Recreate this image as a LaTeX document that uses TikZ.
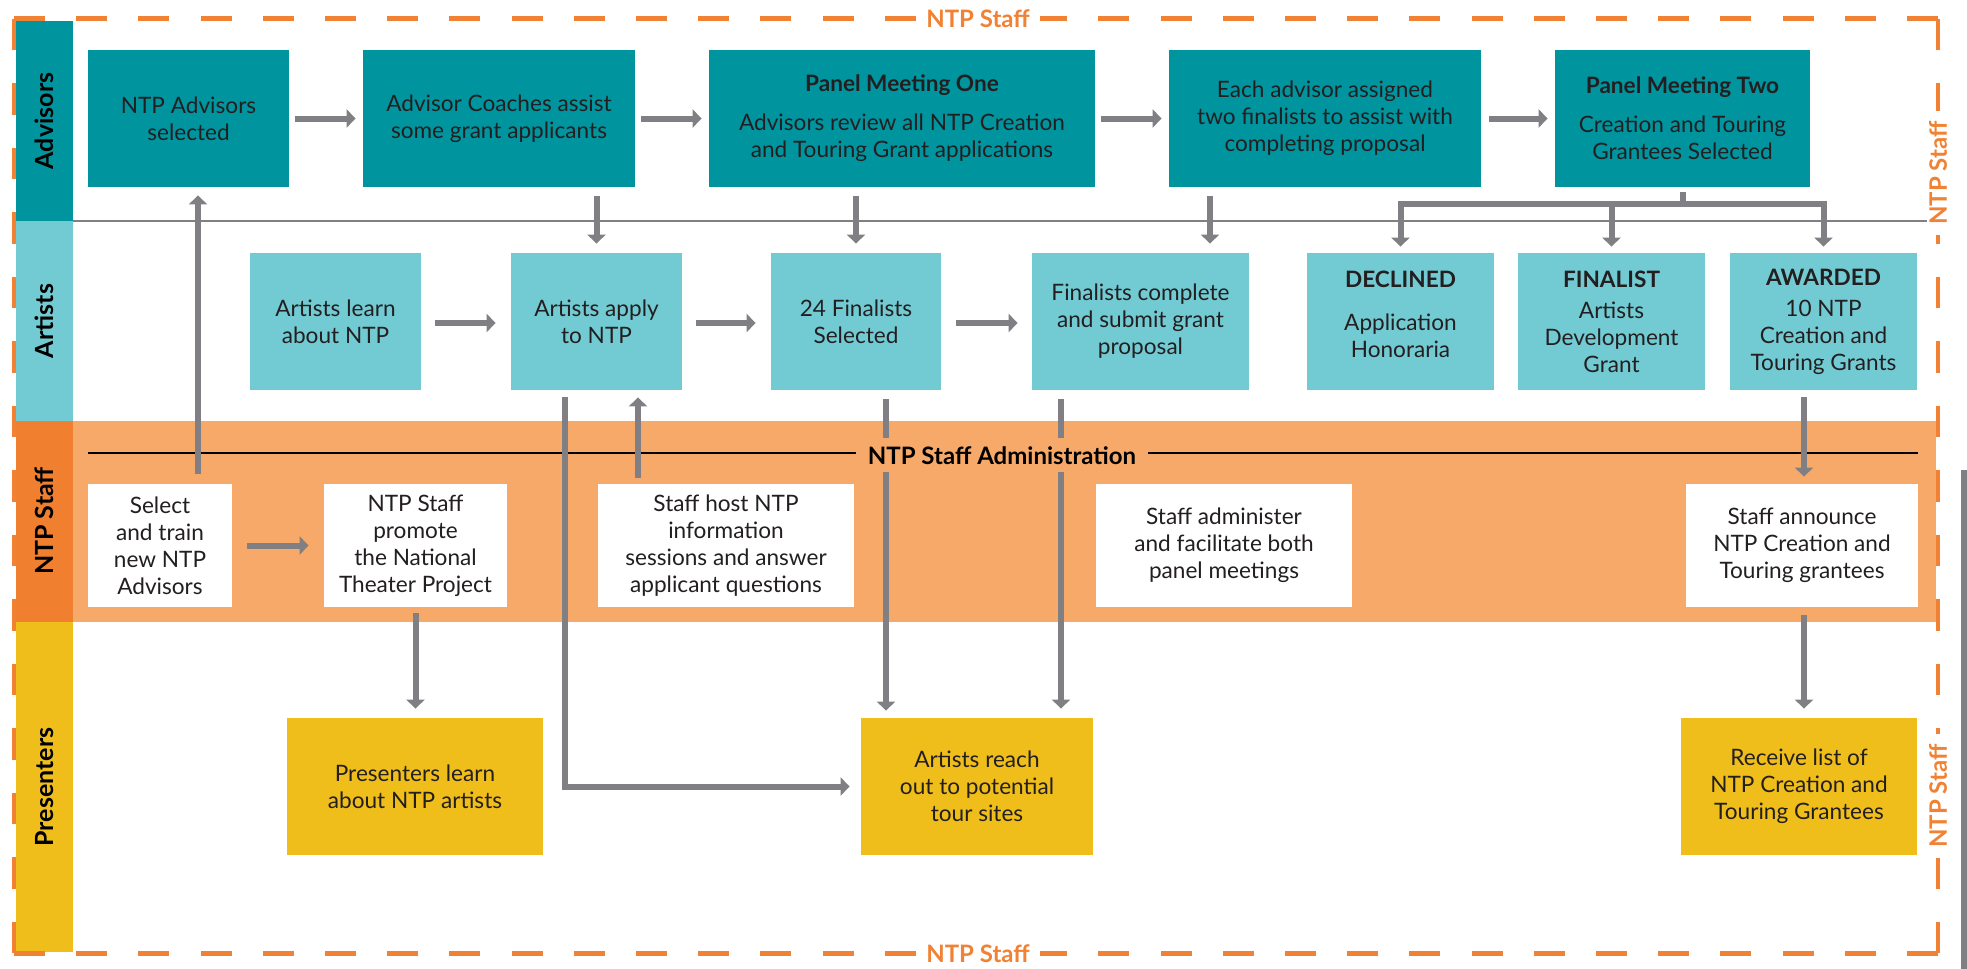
\documentclass[tikz,border=0pt]{standalone}
\usepackage{fontspec}
\setmainfont{Lato}
\usetikzlibrary{arrows.meta}
\definecolor{advteal}{RGB}{0,148,158}
\definecolor{artteal}{RGB}{114,203,211}
\definecolor{stafforange}{RGB}{240,128,48}
\definecolor{bandorange}{RGB}{246,169,104}
\definecolor{presyellow}{RGB}{240,190,26}
\definecolor{conngray}{RGB}{128,128,132}
\definecolor{dashorange}{RGB}{241,130,52}
\definecolor{inkblack}{RGB}{35,31,32}
\newcommand\placebox[7]{\node[#6, minimum width={(#4-#2)*0.5pt}, minimum height={(#5-#3)*0.5pt}] (#1) at ({(#2+#4)/2},{(#3+#5)/2}) {#7};}
\tikzset{
 boxbase/.style={rectangle, inner sep=0pt, align=center, text=inkblack, font=\fontsize{11.3}{13.5}\selectfont},
 advbox/.style={boxbase, fill=advteal},
 artbox/.style={boxbase, fill=artteal},
 declbox/.style={artbox, text depth=7pt},
 staffbox/.style={boxbase, fill=white},
 presbox/.style={boxbase, fill=presyellow},
 lanelabel/.style={rotate=90, font=\fontsize{12.5}{14}\selectfont\bfseries, text=black},
 conn/.style={draw=conngray, line width=3pt},
 arr/.style={conn, -{Triangle[length=4.5pt,width=9pt]}},
 hborder/.style={draw=dashorange, line width=2.4pt, dash pattern=on 15.5pt off 15.6pt},
 vborder/.style={draw=dashorange, line width=2.4pt, dash pattern=on 15.85pt off 16.4pt},
 borderlabel/.style={fill=white, text=dashorange, font=\fontsize{12}{14}\selectfont\bfseries, inner xsep=5pt, inner ysep=1pt},
}
\begin{document}
\begin{tikzpicture}[x=0.5pt,y=-0.5pt]
\useasboundingbox (0,0) rectangle (1967,969);
% lane strips
\fill[advteal] (16,21) rectangle (73,221);
\fill[artteal] (16,221) rectangle (73,421);
\fill[stafforange] (16,421) rectangle (73,622);
\fill[presyellow] (16,622) rectangle (73,952);
\node[lanelabel] (lAdv) at (44.5,121) {Advisors};
\node[lanelabel] (lArt) at (44.5,321) {Artists};
\node[lanelabel] (lStf) at (44.5,521) {NTP Staff};
\node[lanelabel] (lPre) at (44.5,787) {Presenters};
% orange band
\fill[bandorange] (73,421) rectangle (1936,622);
% lane separator
\draw[draw=conngray, line width=1pt] (73,221) -- (1930,221);
% admin line
\draw[black, line width=1.2pt] (88,453) -- (1918,453);
% advisors boxes
\placebox{a1}{88}{50}{289}{187}{advbox}{NTP Advisors\\selected}
\placebox{a2}{363}{50}{635}{187}{advbox}{Advisor Coaches assist\\some grant applicants}
\placebox{a3}{709}{50}{1095}{187}{advbox}{\textbf{Panel Meeting One}\\[6pt]Advisors review all NTP Creation\\and Touring Grant applications}
\placebox{a4}{1169}{50}{1481}{187}{advbox}{Each advisor assigned\\two finalists to assist with\\completing proposal}
\placebox{a5}{1555}{50}{1810}{187}{advbox}{\textbf{Panel Meeting Two}\\[6pt]Creation and Touring\\Grantees Selected}
% artists boxes
\placebox{r1}{250}{253}{421}{390}{artbox}{Artists learn\\about NTP}
\placebox{r2}{511}{253}{682}{390}{artbox}{Artists apply\\to NTP}
\placebox{r3}{771}{253}{941}{390}{artbox}{24 Finalists\\Selected}
\placebox{r4}{1032}{253}{1249}{390}{artbox}{Finalists complete\\and submit grant\\proposal}
\placebox{r5}{1307}{253}{1494}{390}{declbox}{\textbf{DECLINED}\\[8pt]Application\\Honoraria}
\placebox{r6}{1518}{253}{1705}{390}{artbox}{\textbf{FINALIST}\\[2pt]Artists\\Development\\Grant}
\placebox{r7}{1730}{253}{1917}{390}{artbox}{\textbf{AWARDED}\\[2pt]10 NTP\\Creation and\\Touring Grants}
% staff boxes
\placebox{s1}{88}{484}{232}{607}{staffbox}{Select\\and train\\new NTP\\Advisors}
\placebox{s2}{324}{484}{507}{607}{staffbox}{NTP Staff\\promote\\the National\\Theater Project}
\placebox{s3}{598}{484}{854}{607}{staffbox}{Staff host NTP\\information\\sessions and answer\\applicant questions}
\placebox{s4}{1096}{484}{1352}{607}{staffbox}{Staff administer\\and facilitate both\\panel meetings}
\placebox{s5}{1686}{484}{1918}{607}{staffbox}{Staff announce\\NTP Creation and\\Touring grantees}
% presenters boxes
\placebox{p1}{287}{718}{543}{855}{presbox}{Presenters learn\\about NTP artists}
\placebox{p2}{861}{718}{1093}{855}{presbox}{Artists reach\\out to potential\\tour sites}
\placebox{p3}{1681}{718}{1917}{855}{presbox}{Receive list of\\NTP Creation and\\Touring Grantees}
% advisors lane arrows
\draw[arr] ([xshift=3pt]a1.east) -- ([xshift=-3.5pt]a2.west);
\draw[arr] ([xshift=3pt]a2.east) -- ([xshift=-3.5pt]a3.west);
\draw[arr] ([xshift=3pt]a3.east) -- ([xshift=-3.5pt]a4.west);
\draw[arr] ([xshift=4pt]a4.east) -- ([xshift=-3.5pt]a5.west);
% artists lane arrows
\draw[arr] ([xshift=7pt,yshift=-0.75pt]r1.east) -- ([xshift=-7.5pt,yshift=-0.75pt]r2.west);
\draw[arr] ([xshift=7pt,yshift=-0.75pt]r2.east) -- ([xshift=-7.5pt,yshift=-0.75pt]r3.west);
\draw[arr] ([xshift=7.5pt,yshift=-0.75pt]r3.east) -- ([xshift=-7pt,yshift=-0.75pt]r4.west);
% advisors to artists
\draw[arr] ([yshift=-4.5pt]a2.south -| r2.north) -- ([yshift=4.5pt]r2.north);
\draw[arr] ([yshift=-4.5pt]a3.south -| r3.north) -- ([yshift=4.5pt]r3.north);
\draw[arr] ([xshift=34.75pt,yshift=-4.5pt]a4.south -| r4.north) -- ([xshift=34.75pt,yshift=4.5pt]r4.north);
% tree from panel meeting two
\coordinate (tj) at ([yshift=-8.5pt]a5.south);
\draw[conn] ([yshift=-2.5pt]a5.south) -- (tj);
\draw[arr] (tj) -| ([yshift=3pt]r5.north);
\draw[arr] (tj) -| ([yshift=3pt]r6.north);
\draw[arr] (tj) -| ([yshift=3pt]r7.north);
% staff lane
\draw[arr] ([xshift=19pt,yshift=5pt]s1.north) -- ([xshift=19pt,yshift=-4pt]s1.north |- a1.south);
\draw[arr] ([xshift=7.5pt]s1.east) -- ([xshift=-7.5pt]s2.west);
\draw[arr] ([xshift=-44pt,yshift=3pt]s3.north) -- ([xshift=-44pt,yshift=-3.5pt]s3.north |- r2.south);
\draw[arr] ([xshift=-15.75pt,yshift=-3.5pt]r2.south) |- ([xshift=-5.5pt]p2.west);
\draw[arr] ([xshift=15pt,yshift=-4.5pt]r3.south) -- ([xshift=15pt,yshift=3.5pt]r3.south |- p2.north);
\draw[arr] ([xshift=-39.75pt,yshift=-4.5pt]r4.south) -- ([xshift=-39.75pt,yshift=4.5pt]r4.south |- p2.north);
\draw[arr] ([yshift=-3pt]s2.south) -- ([yshift=4.5pt]s2.south |- p1.north);
\draw[arr] ([xshift=-9.75pt,yshift=-3.5pt]r7.south) -- ([xshift=-9.75pt,yshift=3.5pt]r7.south |- s5.north);
\draw[arr] ([xshift=1pt,yshift=-4pt]s5.south) -- ([xshift=1pt,yshift=4.5pt]s5.south |- p3.north);
% admin label
\node[anchor=base, fill=bandorange, inner xsep=6pt, inner ysep=4pt, font=\fontsize{12}{14}\selectfont\bfseries, text=black] (admin) at (1002,464) {NTP Staff Administration};
% dashed border
\draw[hborder] (14,18.5) -- (976,18.5);
\draw[hborder] (1938,18.5) -- (976,18.5);
\draw[hborder] (14,953.5) -- (976,953.5);
\draw[hborder] (1938,953.5) -- (976,953.5);
\draw[vborder] (14,18.5) -- (14,953.5);
\draw[vborder] (1938,18.5) -- (1938,953.5);
\node[borderlabel] (bTop) at (978,18.5) {NTP Staff};
\node[borderlabel] (bBot) at (978,953.5) {NTP Staff};
\node[borderlabel, rotate=90] (bR1) at (1938,173) {NTP Staff};
\node[borderlabel, rotate=90] (bR2) at (1938,796) {NTP Staff};
% edge bar
\fill[conngray] (1961,470) rectangle (1967,969);
\end{tikzpicture}
\end{document}
